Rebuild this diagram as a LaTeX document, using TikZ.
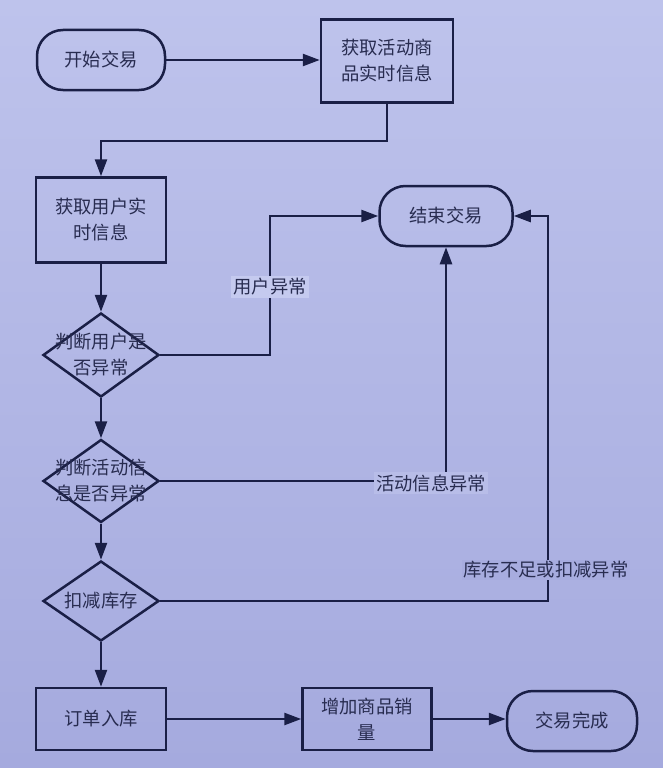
\documentclass[tikz,border=0pt]{standalone}
\usepackage{fontspec}
\setmainfont{Noto Sans CJK SC}
\usetikzlibrary{arrows.meta,shapes.geometric,calc}
\definecolor{bgtop}{RGB}{190,195,236}
\definecolor{bgmid}{RGB}{205,209,242}
\definecolor{bgbot}{RGB}{165,170,222}
\definecolor{bgA}{RGB}{197,202,239}
\definecolor{bgB}{RGB}{184,189,232}
\definecolor{bgC}{RGB}{167,172,223}
\definecolor{ink}{RGB}{26,31,70}
\definecolor{txt}{RGB}{40,44,80}
\tikzset{
  every node/.style={font=\fontsize{18.3}{26}\selectfont, text=txt},
  proc/.style={draw=ink, line width=2.5pt, rectangle, align=center, inner sep=0pt},
  term/.style={draw=ink, line width=2.5pt, rectangle, rounded corners=26pt, align=center, inner sep=0pt},
  deci/.style={draw=ink, line width=2.5pt, diamond, inner sep=0pt},
  dtext/.style={align=center, inner sep=0pt},
  lbl/.style={inner sep=2pt},
  arr/.style={draw=ink, line width=2.5pt, -{Triangle[length=17pt,width=12pt]}},
}
\begin{document}
\begin{tikzpicture}[x=1pt,y=-1pt]
\shade[top color=bgtop, middle color=bgmid, bottom color=bgbot] (0,0) rectangle (663,768);
\useasboundingbox (0,0) rectangle (663,768);

\node[term, minimum width=128pt, minimum height=60pt] (start) at (101,60) {开始交易};
\node[proc, minimum width=132pt, minimum height=83pt] (info) at (387,61) {获取活动商\\品实时信息};
\node[proc, minimum width=130pt, minimum height=85pt] (user) at (101,220) {获取用户实\\时信息};
\node[term, minimum width=133pt, minimum height=60pt] (endn) at (446,216) {结束交易};

\node[deci, minimum width=116pt, minimum height=84pt] (d1) at (101,355) {};
\node[dtext] (t1) at (d1) {判断用户是\\否异常};
\node[deci, minimum width=116pt, minimum height=83pt] (d2) at (101,481) {};
\node[dtext] (t2) at (d2) {判断活动信\\息是否异常};
\node[deci, minimum width=116pt, minimum height=80pt] (d3) at (101,601) {};
\node[dtext] (t3) at (d3) {扣减库存};

\node[proc, minimum width=130pt, minimum height=62pt] (order) at (101,719) {订单入库};
\node[proc, minimum width=129pt, minimum height=62pt] (sales) at (367,719) {增加商品销\\量};
\node[term, minimum width=130pt, minimum height=60pt] (done) at (572,721) {交易完成};

\coordinate (c0) at (101,141);
\coordinate (c1) at (270,300);
\coordinate (c3) at (548,400);

\draw[arr] (start.east) -- (start.east -| info.west);
\draw[arr] (info.south) |- (c0) -- (user.north);
\draw[arr] (user.south) -- (d1.north);
\draw[arr] (d1.south) -- (d2.north);
\draw[arr] (d2.south) -- (d3.north);
\draw[arr] (d3.south) -- (order.north);
\draw[arr] (order.east) -- (order.east -| sales.west);
\draw[arr] (sales.east) -- (sales.east -| done.west);

\draw[arr] (d1.east) -| (c1) |- (endn.west);
\draw[arr] (d2.east) -| (endn.south);
\draw[arr] (d3.east) -| (c3) |- (endn.east);

\node[lbl, fill=bgA] (l1) at (270,287) {用户异常};
\node[lbl, fill=bgB] (l2) at (431,483) {活动信息异常};
\node[lbl, fill=bgC] (l3) at (546,570) {库存不足或扣减异常};
\end{tikzpicture}
\end{document}
